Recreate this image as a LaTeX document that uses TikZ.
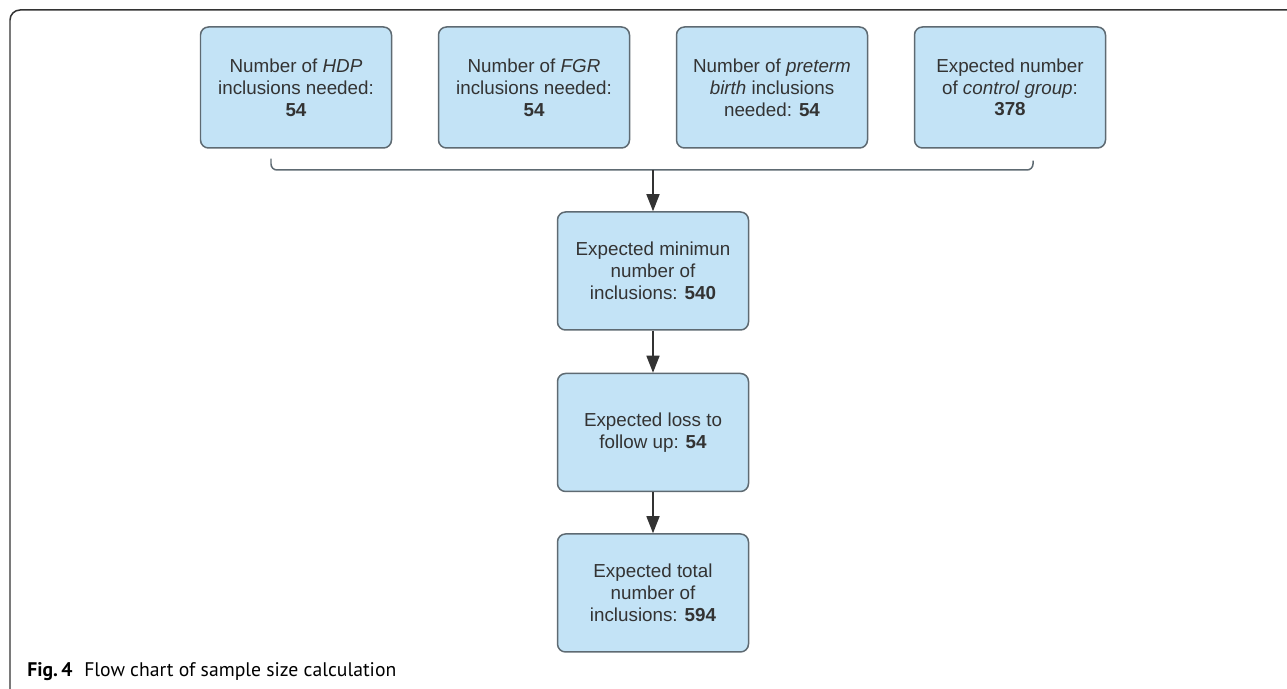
\documentclass[tikz,border=0pt]{standalone}
\usepackage{fontspec}
\setmainfont{Liberation Sans}
\newfontfamily\capfont{PT Sans}
\usepackage{xcolor}
\usepackage{tikz}
\usetikzlibrary{positioning,arrows.meta,calc}
\definecolor{boxfill}{HTML}{C3E3F6}
\definecolor{boxline}{HTML}{5E6A72}
\definecolor{inktext}{HTML}{333333}

\begin{document}
\begin{tikzpicture}[font=\fontsize{10.7}{12.4}\selectfont,>={Triangle[length=0.34cm,width=0.26cm]},
  fb/.style={draw=boxline,fill=boxfill,rounded corners=0.16cm,line width=0.85pt,align=center,
    text=inktext,minimum width=3.82cm,minimum height=2.36cm,inner sep=2pt},
  link/.style={->,draw=inktext,line width=0.85pt}]
\useasboundingbox (0,0) rectangle (25.74,-13.78);
% outer frame
\draw[inktext,line width=0.85pt,rounded corners=0.2cm] (0.2,-14) -- (0.2,-0.2) -- (26,-0.2);
% top row
\foreach \i/\name/\x in {1/{Number of \textit{HDP}\\inclusions needed:\\\textbf{54}}/5.92,
  2/{Number of \textit{FGR}\\inclusions needed:\\\textbf{54}}/10.68,
  3/{Number of \textit{preterm}\\\textit{birth} inclusions\\needed: \textbf{54}}/15.44,
  4/{Expected number\\of \textit{control group}:\\\textbf{378}}/20.2}
  \node[fb,minimum height=2.42cm] (t\i) at (\x,-1.75) {\name};
% main column
\node[fb] (mn) at (13.06,-5.42) {Expected minimun\\number of\\inclusions: \textbf{540}};
\node[fb,below=0.84cm of mn] (ls) {Expected loss to\\follow up: \textbf{54}};
\node[fb,below=0.82cm of ls] (tt) {Expected total\\number of\\inclusions: \textbf{594}};
% bracket
\coordinate (bl) at ($(t1.south)+(-0.5,-0.2)$);
\coordinate (br) at ($(t4.south)+(0.46,-0.24)$);
\coordinate (bm) at (mn.north |- 0,-3.4);
\draw[boxline,line width=0.85pt,rounded corners=0.12cm] (bl) -- (bl |- bm) -- (br |- bm) -- (br);
\draw[link] (bm) -- (mn);
\foreach \a/\b in {mn/ls,ls/tt} \draw[link] (\a) -- (\b);
% caption
\node[anchor=west,inner sep=0pt,font=\capfont\fontsize{11.2}{13}\selectfont,text=black] (cap) at (0.54,-13.44)
  {\textbf{Fig.\,4}\hspace{0.6em}Flow chart of sample size calculation};
\end{tikzpicture}
\end{document}
